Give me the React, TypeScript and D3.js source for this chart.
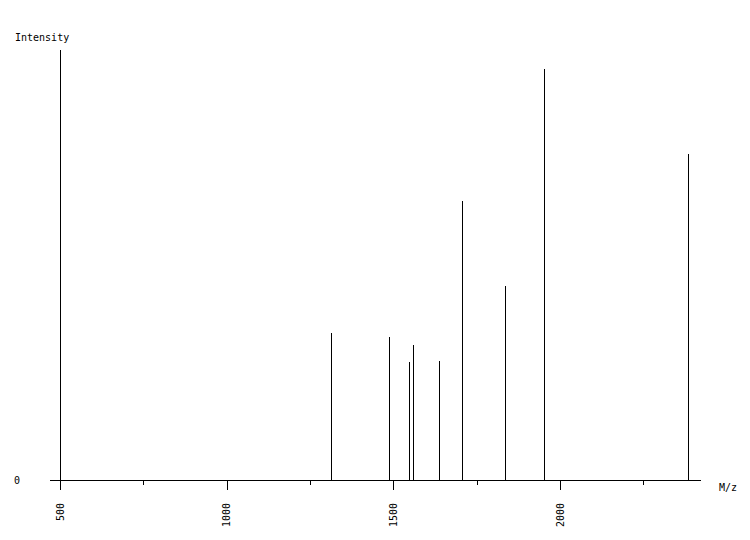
import * as d3 from "d3";
import { useRef, useEffect } from "react";

const mzValues = [1313, 1488, 1548, 1560, 1638, 1707, 1836, 1953, 2385];
const intensities = [34.2, 33.3, 27.4, 31.4, 27.7, 64.9, 45.1, 95.6, 75.8];
const majorTicks = [500, 1000, 1500, 2000];
const minorTicks = [750, 1250, 1750, 2250];

export default function App() {
  const svgRef = useRef<SVGSVGElement>(null);
  const width = 750;
  const height = 540;

  useEffect(() => {
    if (!svgRef.current) return;
    const svg = d3.select(svgRef.current);
    svg.selectAll("*").remove();

    const x = d3.scaleLinear([500, 2450], [60, 710]);
    const y = d3.scaleLinear([0, 100], [480, 50]);
    const px = (v: number) => Math.round(v) + 0.5;
    const font = "'DejaVu Sans Mono', monospace";

    const g = svg
      .append("g")
      .attr("stroke", "#000")
      .attr("shape-rendering", "crispEdges");

    // axes
    g.append("line")
      .attr("x1", 50)
      .attr("x2", 701)
      .attr("y1", px(y(0)))
      .attr("y2", px(y(0)));
    g.append("line")
      .attr("x1", px(x(500)))
      .attr("x2", px(x(500)))
      .attr("y1", y(100))
      .attr("y2", y(0));

    // ticks
    majorTicks.forEach((t) => {
      g.append("line")
        .attr("x1", px(x(t)))
        .attr("x2", px(x(t)))
        .attr("y1", y(0))
        .attr("y2", y(0) + 10);
    });
    minorTicks.forEach((t) => {
      g.append("line")
        .attr("x1", px(x(t)))
        .attr("x2", px(x(t)))
        .attr("y1", y(0))
        .attr("y2", y(0) + 5);
    });

    // peaks
    mzValues.forEach((mz, i) => {
      g.append("line")
        .attr("x1", px(x(mz)))
        .attr("x2", px(x(mz)))
        .attr("y1", Math.round(y(intensities[i])))
        .attr("y2", y(0));
    });

    const t = svg
      .append("g")
      .attr("font-family", font)
      .attr("font-size", 10)
      .attr("fill", "#000");

    t.append("text").attr("x", 15).attr("y", 41).text("Intensity");
    t.append("text").attr("x", 14).attr("y", 484).text("0");
    t.append("text").attr("x", 719).attr("y", 491).text("M/z");

    majorTicks.forEach((v) => {
      t.append("text")
        .attr("transform", `translate(${x(v)},503) rotate(-90)`)
        .attr("text-anchor", "end")
        .attr("dy", "0.35em")
        .text(v);
    });
  }, []);

  return (
    <svg
      ref={svgRef}
      width={width}
      height={height}
      style={{ position: "absolute", left: 0, top: 0, background: "#fff" }}
    />
  );
}
